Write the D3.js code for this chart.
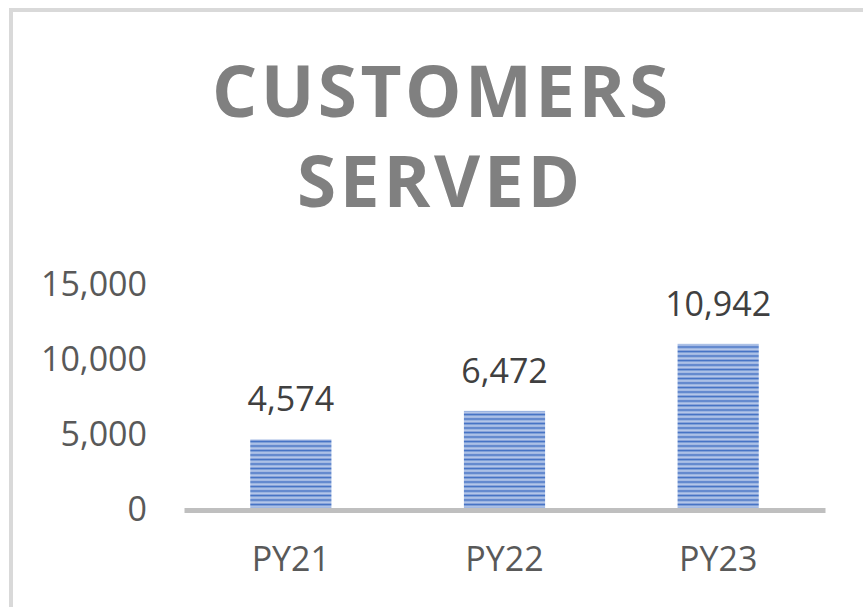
<!DOCTYPE html>
<html>
<head>
<meta charset="utf-8">
<script src="https://cdn.jsdelivr.net/npm/d3@7"></script>
<style>
  html, body { margin: 0; padding: 0; background: #ffffff; }
  svg { display: block; }
</style>
</head>
<body>
<svg id="chart" width="863" height="607"></svg>
<script>
const categories = ["PY21", "PY22", "PY23"];
const values = [4574, 6472, 10942];
const yTicks = [0, 5000, 10000, 15000];
const titleLines = ["CUSTOMERS", "SERVED"];

const svg = d3.select("#chart");
const W = 863, H = 607;

// frame
svg.append("rect").attr("x", 0).attr("y", 0).attr("width", W).attr("height", H).attr("fill", "#ffffff");
svg.append("rect")
  .attr("x", 11).attr("y", 10).attr("width", W + 20).attr("height", H + 20)
  .attr("fill", "none").attr("stroke", "#d9d9d9").attr("stroke-width", 4);

// stripe pattern
const defs = svg.append("defs");
const pat = defs.append("pattern")
  .attr("id", "stripes").attr("patternUnits", "userSpaceOnUse")
  .attr("width", 8).attr("height", 4.5);
const stripeCols = ["#4472c4", "#5a83cc", "#b8cbea", "#86a2d9"];
const stripeH = [1.2, 1.1, 1.1, 1.1];
let yy = 0;
stripeCols.forEach((c, i) => {
  pat.append("rect").attr("x", 0).attr("y", yy).attr("width", 8).attr("height", stripeH[i] + 0.05).attr("fill", c);
  yy += stripeH[i];
});

const x = d3.scaleBand().domain(categories).range([184, 825]).paddingInner(0.62).paddingOuter(0.31);
const y = d3.scaleLinear().domain([0, 15000]).range([508, 283]);

const font = "'Open Sans', 'DejaVu Sans', sans-serif";

// title
const titleY = [117, 207];
const titleLen = [456, 283];
const titleX = [440, 438.5];
titleLines.forEach((t, i) => {
  svg.append("text")
    .attr("x", titleX[i]).attr("y", titleY[i])
    .attr("text-anchor", "middle")
    .attr("font-family", font).attr("font-weight", 700)
    .attr("font-size", 71)
    .attr("fill", "#808080")
    .attr("textLength", titleLen[i]).attr("lengthAdjust", "spacing")
    .text(t);
});

// y axis labels
const yAxis = d3.axisLeft(y).tickValues(yTicks).tickFormat(d3.format(",")).tickSize(0).tickPadding(0);
const gy = svg.append("g").attr("transform", "translate(147,0)").call(yAxis);
gy.select(".domain").remove();
gy.selectAll("text")
  .attr("font-family", font).attr("font-size", 34).attr("fill", "#595959")
  .attr("dy", "0.36em");

// bars
svg.append("g").selectAll("rect").data(values).join("rect")
  .attr("x", (d, i) => x(categories[i]))
  .attr("y", d => y(d))
  .attr("width", x.bandwidth())
  .attr("height", d => y(0) - y(d))
  .attr("fill", "url(#stripes)");

// data labels
svg.append("g").selectAll("text").data(values).join("text")
  .attr("x", (d, i) => x(categories[i]) + x.bandwidth() / 2)
  .attr("y", d => y(d) - 28)
  .attr("text-anchor", "middle")
  .attr("font-family", font).attr("font-size", 34).attr("fill", "#404040")
  .text(d => d3.format(",")(d));

// x axis
const xAxis = d3.axisBottom(x).tickSize(0).tickPadding(0);
const gx = svg.append("g").attr("transform", "translate(0,510)").call(xAxis);
gx.select(".domain").attr("stroke", "#bfbfbf").attr("stroke-width", 5);
gx.selectAll("text")
  .attr("font-family", font).attr("font-size", 34).attr("fill", "#595959")
  .attr("dy", null).attr("y", 61);
</script>
</body>
</html>
